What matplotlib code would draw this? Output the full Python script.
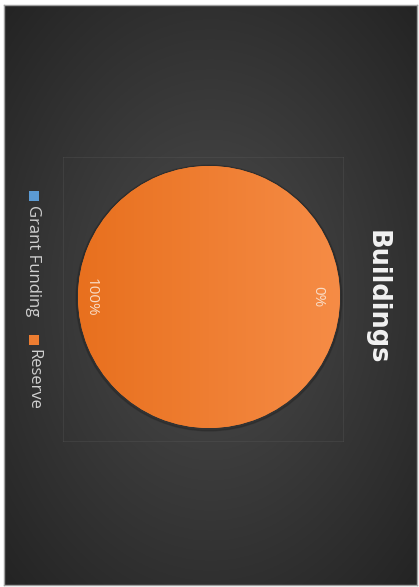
import numpy as np
import matplotlib
matplotlib.use("Agg")
import matplotlib.pyplot as plt
from matplotlib.patches import Circle, Rectangle

plt.rcParams["font.family"] = ["Open Sans", "DejaVu Sans"]

# Pie data
title = "Buildings"
categories = ["Grant Funding", "Reserve"]
values = [0, 100]
colors = ["#5B9BD5", "#ED7D31"]

W, H = 419, 587
fig = plt.figure(figsize=(W / 100, H / 100), dpi=100)
fig.patch.set_facecolor("white")


def px_axes(x0, y0, x1, y1):
    # axes placed in pixel coordinates measured from the top-left corner
    return fig.add_axes([x0 / W, 1 - y1 / H, (x1 - x0) / W, (y1 - y0) / H])


# Dark radial background inside a thin grey frame
bg = px_axes(4, 5, 417, 585)
yy, xx = np.mgrid[-1:1:400j, -1:1:300j]
r = np.sqrt(xx ** 2 + yy ** 2) / np.sqrt(2)
shade = 0.30 - 0.16 * r
img = np.dstack([shade, shade, shade])
bg.imshow(np.clip(img, 0, 1), extent=(0, 1, 0, 1), aspect="auto")
bg.set_xlim(0, 1)
bg.set_ylim(0, 1)
bg.set_xticks([])
bg.set_yticks([])
for s in bg.spines.values():
    s.set_color("#a0a0a0")
    s.set_linewidth(1.0)

# Faint plot-area outline
pa = px_axes(63, 157, 343, 441)
pa.set_facecolor("none")
pa.set_xticks([])
pa.set_yticks([])
for s in pa.spines.values():
    s.set_color("#6a6a6a")
    s.set_alpha(0.25)
    s.set_linewidth(0.6)

# Pie, drawn turned a quarter turn clockwise
lim = 1.04
R = 131
cx, cy = 209, 297
ax = px_axes(cx - R * lim, cy - R * lim, cx + R * lim, cy + R * lim)
ax.set_facecolor("none")
ax.add_patch(Circle((0.0, -0.008), 1.014, color="#1c1c1c", alpha=0.3, zorder=0))
wedges, _, autotexts = ax.pie(
    values, colors=colors, startangle=0, counterclock=False, radius=1,
    autopct="%.0f%%", pctdistance=0.85,
    textprops=dict(color="#f9dcc6", fontsize=11, rotation=-90, ha="center", va="center"),
    wedgeprops=dict(linewidth=0),
)
ax.set_xlim(-lim, lim)
ax.set_ylim(-lim, lim)

# Horizontal light gradient on the filled wedge
grad = np.linspace(0, 1, 256)[None, :]
c0 = np.array([232, 112, 30]) / 255
c1 = np.array([246, 140, 70]) / 255
gimg = c0[None, None, :] * (1 - grad[..., None]) + c1[None, None, :] * grad[..., None]
for w, v in zip(wedges, values):
    if v > 0:
        im = ax.imshow(gimg, extent=(-1, 1, -1, 1), aspect="auto", zorder=1.5)
        im.set_clip_path(w)
    else:
        w.set_visible(False)
for t in autotexts:
    t.set_zorder(3)

# Percentage labels nudged along each wedge's mid-angle
label_dist = [0.83, 0.90]
for w, t, d in zip(wedges, autotexts, label_dist):
    ang = np.deg2rad((w.theta1 + w.theta2) / 2)
    t.set_position((d * np.cos(ang), d * np.sin(ang)))

# Title and legend, written downward
fig.text(377 / W, 1 - 297 / H, title, rotation=-90, ha="center", va="center",
         fontsize=18.5, fontweight="bold", color="#f2f2f2", family="DejaVu Sans")

leg_y = [196, 340]
for name, col, y in zip(categories, colors, leg_y):
    fig.patches.append(Rectangle(((34 - 5) / W, 1 - (y + 5) / H), 10 / W, 10 / H,
                                 transform=fig.transFigure, facecolor=col, edgecolor="none"))
    fig.text(33 / W, 1 - (y + 9) / H, name, rotation=-90, ha="center", va="top",
             fontsize=12, color="#d0d0d0")

fig.savefig("out.png", dpi=100)
